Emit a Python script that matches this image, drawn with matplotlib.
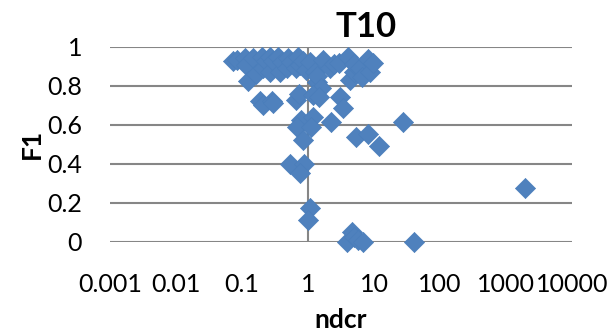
import numpy as np
from matplotlib import pyplot as plt

plt.rcParams['font.family'] = ['Lato', 'DejaVu Sans']

# ndcr (log x) and F1 values
ndcr = [0.073, 0.085, 0.110, 0.117, 0.124, 0.148, 0.166, 0.198, 0.21, 0.23,
        0.264, 0.264, 0.30, 0.354, 0.375, 0.40, 0.475, 0.50, 0.55, 0.67,
        0.71, 0.76, 0.85, 0.95, 1.07, 1.28, 1.36, 1.37, 1.57, 1.71,
        2.16, 2.5, 2.9, 4.1, 4.35, 4.9, 5.0, 6.2, 6.5, 8.2,
        8.7, 9.8,
        0.19, 0.21, 0.29, 0.30, 0.66, 0.74, 1.2, 1.47, 3.06, 3.45,
        0.79, 0.69, 0.83, 1.19, 1.12, 2.2, 5.4, 8.1, 11.8, 27.7,
        0.53, 0.88, 0.77, 1.07, 0.99,
        1900, 40, 3.9, 4.6, 4.9, 5.7, 6.9]
f1 = [0.927, 0.935, 0.945, 0.907, 0.825, 0.945, 0.86, 0.95, 0.89, 0.93,
      0.95, 0.873, 0.93, 0.95, 0.873, 0.92, 0.89, 0.945, 0.92, 0.89,
      0.95, 0.907, 0.93, 0.88, 0.924, 0.873, 0.82, 0.85, 0.787, 0.932,
      0.89, 0.91, 0.915, 0.95, 0.83, 0.873, 0.91, 0.89, 0.847, 0.94,
      0.87, 0.915,
      0.72, 0.70, 0.72, 0.71, 0.727, 0.76, 0.753, 0.744, 0.745, 0.685,
      0.625, 0.59, 0.52, 0.64, 0.59, 0.613, 0.536, 0.553, 0.49, 0.616,
      0.40, 0.40, 0.35, 0.17, 0.11,
      0.275, 0.0, 0.0, 0.05, 0.025, 0.01, 0.0]

xticks = [0.001, 0.01, 0.1, 1, 10, 100, 1000, 10000]
xlabels = ['0.001', '0.01', '0.1', '1', '10', '100', '1000', '10000']
yticks = [0, 0.2, 0.4, 0.6, 0.8, 1]
ylabels = ['0', '0.2', '0.4', '0.6', '0.8', '1']

fig = plt.figure(figsize=(6.1, 3.35), dpi=100)
ax = fig.add_axes([0.180, 0.279, 0.758, 0.581])

ax.set_xscale('log')
ax.set_xlim(0.001, 10000)
ax.set_ylim(0, 1)
for y in yticks:
    ax.axhline(y, color='#868686', lw=1.5, zorder=1)
ax.axvline(1, color='#868686', lw=1.5, zorder=1)

ax.scatter(ndcr, f1, marker='D', s=105, color='#4F81BD', edgecolors='#4A7EBB',
           linewidths=0.5, zorder=3, clip_on=False)

for s in ax.spines.values():
    s.set_visible(False)
ax.set_xticks(xticks)
ax.set_xticklabels(xlabels)
ax.minorticks_off()
ax.set_yticks(yticks)
ax.set_yticklabels(ylabels)
ax.tick_params(axis='both', length=0, labelsize=18)
ax.tick_params(axis='x', pad=23)
ax.tick_params(axis='y', pad=20)

ax.set_xlabel('ndcr', fontsize=19, fontweight='bold', labelpad=8)
ax.set_ylabel('F1', fontsize=19, fontweight='bold', labelpad=2)
fig.text(0.60, 0.92, 'T10', fontsize=25, fontweight='bold', ha='center', va='center')

plt.savefig('out.png')
